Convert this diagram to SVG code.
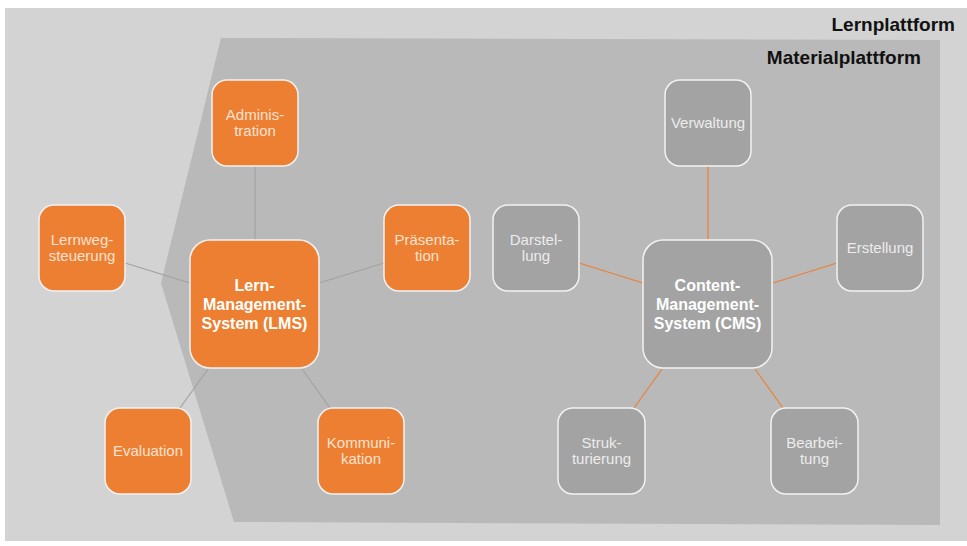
<svg xmlns="http://www.w3.org/2000/svg" width="967" height="546" viewBox="0 0 967 546">
  <style>
    .node rect { stroke: #f2f2f2; stroke-width: 1.5; }
    .lms rect { fill: #ed7f32; }
    .cms rect { fill: #a3a3a3; }
    .lbl { font-family: "Liberation Sans", Arial, sans-serif; font-size: 15px; text-anchor: middle; }
    .lms .lbl { fill: #fbe2d0; }
    .cms .lbl { fill: #ececec; }
    .big { font-family: "Liberation Sans", Arial, sans-serif; font-size: 16px; font-weight: bold; fill: #ffffff; text-anchor: middle; }
    .title { font-family: "Liberation Sans", Arial, sans-serif; font-size: 19px; font-weight: bold; fill: #111111; text-anchor: end; }
    .c-lms line { stroke: #a2a2a2; stroke-width: 1.2; }
    .c-cms line { stroke: #ed7f32; stroke-width: 1.2; }
  </style>

  <!-- platform areas -->
  <rect x="5" y="8" width="962" height="533" fill="#d3d3d3"/>
  <polygon points="221,38 940,40 940,525 234,522 161,283" fill="#b9b9b9"/>
  <text class="title" x="955" y="31">Lernplattform</text>
  <text class="title" x="921" y="64">Materialplattform</text>

  <!-- connectors -->
  <g id="connectors">
    <g class="c-lms">
      <line x1="255" y1="166" x2="255" y2="240"/>
      <line x1="384" y1="263" x2="319" y2="283"/>
      <line x1="125" y1="263" x2="190" y2="283"/>
      <line x1="208" y1="369" x2="180" y2="408"/>
      <line x1="302" y1="369" x2="330" y2="408"/>
    </g>
    <g class="c-cms">
      <line x1="708" y1="166" x2="708" y2="240"/>
      <line x1="579" y1="263" x2="643" y2="283"/>
      <line x1="773" y1="283" x2="837" y2="263"/>
      <line x1="662" y1="369" x2="634" y2="408"/>
      <line x1="755" y1="369" x2="783" y2="408"/>
    </g>
  </g>

  <!-- LMS side -->
  <g id="lms" class="node lms">
    <rect x="190" y="240" width="129" height="128" rx="20"/>
    <text class="big" x="254.5" y="291">Lern-</text>
    <text class="big" x="254.5" y="310">Management-</text>
    <text class="big" x="254.5" y="329">System (LMS)</text>
  </g>
  <g id="administration" class="node lms">
    <rect x="212" y="80" width="86" height="86" rx="15"/>
    <text class="lbl" x="255" y="120">Adminis-</text>
    <text class="lbl" x="255" y="136">tration</text>
  </g>
  <g id="praesentation" class="node lms">
    <rect x="384" y="205" width="86" height="86" rx="15"/>
    <text class="lbl" x="427" y="245">Präsenta-</text>
    <text class="lbl" x="427" y="261">tion</text>
  </g>
  <g id="lernwegsteuerung" class="node lms">
    <rect x="39" y="205" width="86" height="86" rx="15"/>
    <text class="lbl" x="82" y="245">Lernweg-</text>
    <text class="lbl" x="82" y="261">steuerung</text>
  </g>
  <g id="evaluation" class="node lms">
    <rect x="105" y="408" width="86" height="86" rx="15"/>
    <text class="lbl" x="148" y="456">Evaluation</text>
  </g>
  <g id="kommunikation" class="node lms">
    <rect x="318" y="408" width="86" height="86" rx="15"/>
    <text class="lbl" x="361" y="448">Kommuni-</text>
    <text class="lbl" x="361" y="464">kation</text>
  </g>

  <!-- CMS side -->
  <g id="cms" class="node cms">
    <rect x="643" y="240" width="129" height="128" rx="20"/>
    <text class="big" x="707.5" y="291">Content-</text>
    <text class="big" x="707.5" y="310">Management-</text>
    <text class="big" x="707.5" y="329">System (CMS)</text>
  </g>
  <g id="verwaltung" class="node cms">
    <rect x="665" y="80" width="86" height="86" rx="15"/>
    <text class="lbl" x="708" y="128">Verwaltung</text>
  </g>
  <g id="darstellung" class="node cms">
    <rect x="493" y="205" width="86" height="86" rx="15"/>
    <text class="lbl" x="536" y="245">Darstel-</text>
    <text class="lbl" x="536" y="261">lung</text>
  </g>
  <g id="erstellung" class="node cms">
    <rect x="837" y="205" width="86" height="86" rx="15"/>
    <text class="lbl" x="880" y="253">Erstellung</text>
  </g>
  <g id="strukturierung" class="node cms">
    <rect x="558" y="408" width="87" height="86" rx="15"/>
    <text class="lbl" x="601.5" y="448">Struk-</text>
    <text class="lbl" x="601.5" y="464">turierung</text>
  </g>
  <g id="bearbeitung" class="node cms">
    <rect x="771" y="408" width="87" height="86" rx="15"/>
    <text class="lbl" x="814.5" y="448">Bearbei-</text>
    <text class="lbl" x="814.5" y="464">tung</text>
  </g>
</svg>
